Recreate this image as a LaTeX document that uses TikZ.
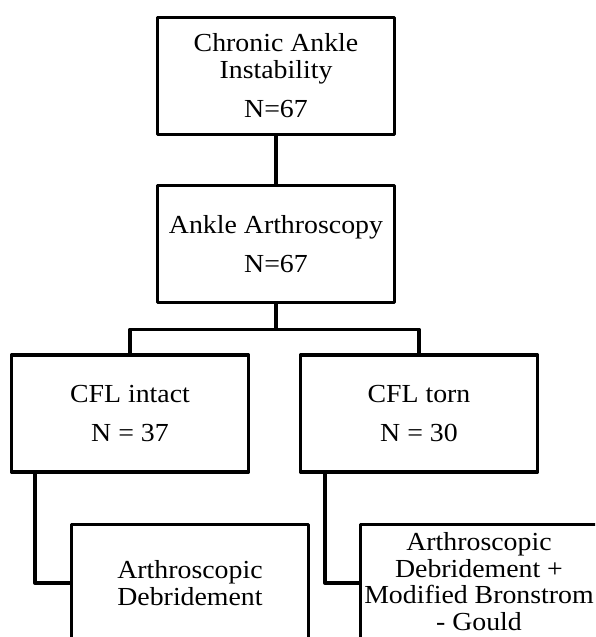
\documentclass[tikz,border=0pt]{standalone}
\usepackage{fontspec}
\setmainfont{Liberation Serif}[FakeStretch=1.07]
\usepackage{tikz}

\begin{document}
\begin{tikzpicture}[x=1pt, y=-1pt,
		flowbox/.style={draw, line width=3.3pt, line join=round, minimum width=237pt, minimum height=117pt, align=center, inner sep=1pt, font=\fontsize{26}{26.5}\selectfont},
		link/.style={line width=3.3pt, line join=round}]
						\useasboundingbox (0,0) rectangle (595,637);
						\clip (0,0) rectangle (595,637);
						\node[flowbox] (chronic) at (276,76) {Chronic Ankle\\ Instability\\[13pt] N=67};
						\node[flowbox] (arthro) at (276,244) {Ankle Arthroscopy\\[13pt] N=67};
						\node[flowbox] (intact) at (130,413.5) {CFL intact\\[13pt] N = 37};
						\node[flowbox] (torn) at (419,413.5) {CFL torn\\[13pt] N = 30};
						\node[flowbox] (debr) at (190,583) {Arthroscopic\\ Debridement};
						\node[flowbox] (bronst) at (479,583) {Arthroscopic\\ Debridement +\\ Modified Bronstrom\\ - Gould\vspace{3pt}};
						\draw[link] (chronic) -- (arthro);
						\draw[link] (arthro.south) -- ++(0,25) coordinate (split);
						\draw[link] (intact.north) |- (split) -| (torn.north);
						\draw[link] ([xshift=25pt]intact.south west) |- (debr.west);
						\draw[link] ([xshift=26pt]torn.south west) |- (bronst.west);
					\end{tikzpicture}
\end{document}
